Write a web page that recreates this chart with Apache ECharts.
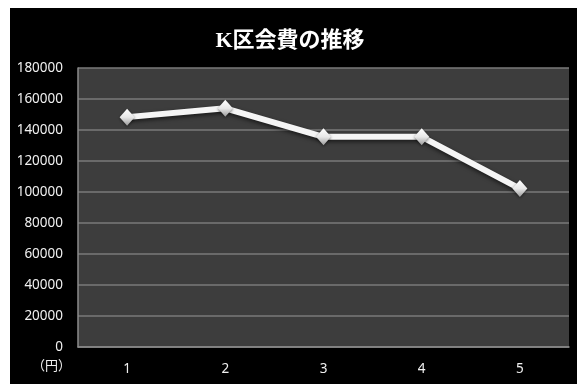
<!DOCTYPE html>
<html>
<head>
<meta charset="utf-8">
<script src="https://cdn.jsdelivr.net/npm/echarts@6/dist/echarts.min.js"></script>
<style>
html,body{margin:0;padding:0;background:#fff;}
#wrap{position:absolute;left:10px;top:8px;width:567px;height:376px;background:#000;}
#chart{width:567px;height:376px;}
</style>
</head>
<body>
<div id="wrap"><div id="chart"></div></div>
<script>
var title = 'K区会費の推移';
var categories = ['1', '2', '3', '4', '5'];
var values = [148300, 154000, 135600, 135600, 102200];
var yMin = 0, yMax = 180000, yStep = 20000;
var unitLabel = '（円）';

var labelFont = '"Noto Sans", "Noto Sans CJK JP", sans-serif';
var chart = echarts.init(document.getElementById('chart'), null, {renderer: 'canvas'});
chart.setOption({
  backgroundColor: 'transparent',
  animation: false,
  title: {
    text: title,
    left: 275, top: 17,
    textAlign: 'center',
    textStyle: {color: '#fff', fontSize: 22, fontWeight: 'bold',
      fontFamily: '"Liberation Serif", "DejaVu Serif", "Noto Sans CJK JP", serif'}
  },
  grid: {left: 68, top: 60, right: 8, bottom: 37, show: true, backgroundColor: '#3d3d3d', borderWidth: 0},
  xAxis: {
    type: 'category', data: categories, boundaryGap: true,
    axisLine: {show: true, lineStyle: {color: '#8c8c8c', width: 1.5}},
    axisTick: {show: false},
    axisLabel: {color: '#f0f0f0', fontSize: 13.5, margin: 15, fontFamily: labelFont},
    splitLine: {show: false}
  },
  yAxis: {
    type: 'value', min: yMin, max: yMax, interval: yStep,
    axisLine: {show: true, lineStyle: {color: '#8c8c8c', width: 1.5}},
    axisTick: {show: false},
    axisLabel: {color: '#f0f0f0', fontSize: 13.5, margin: 15, fontFamily: labelFont,
      formatter: function (v) { return String(v); }},
    splitLine: {show: true, lineStyle: {color: '#7a7a7a', width: 1.5}}
  },
  graphic: [{
    type: 'text', left: 22, top: 351,
    style: {text: unitLabel, fill: '#f0f0f0', fontSize: 13, fontFamily: '"Noto Sans CJK JP", sans-serif'}
  }],
  series: [{
    type: 'line', data: values,
    symbol: 'diamond', symbolSize: [15, 17],
    lineStyle: {color: '#f5f5f5', width: 6, shadowColor: 'rgba(0,0,0,0.6)', shadowBlur: 4, shadowOffsetY: 2},
    itemStyle: {
      color: new echarts.graphic.LinearGradient(0, 0, 0, 1, [
        {offset: 0, color: '#ffffff'}, {offset: 0.5, color: '#e8e8e8'}, {offset: 1, color: '#9a9a9a'}
      ]),
      borderWidth: 0, shadowColor: 'rgba(0,0,0,0.5)', shadowBlur: 3, shadowOffsetY: 1
    },
    z: 3
  }]
});
</script>
</body>
</html>
